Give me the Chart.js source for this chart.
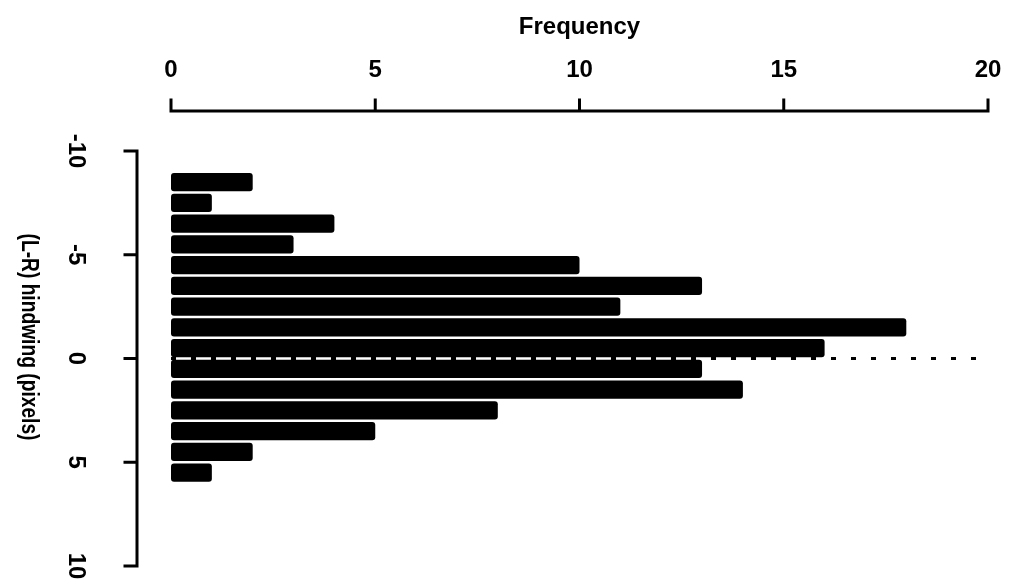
<!DOCTYPE html>
<html>
<head>
<meta charset="utf-8">
<script src="https://cdn.jsdelivr.net/npm/chart.js@4/dist/chart.umd.min.js"></script>
<style>
  html, body { margin: 0; padding: 0; background: #fff; }
  #wrap { position: absolute; left: 0; top: 0; width: 1010px; height: 582px; }
</style>
</head>
<body>
<div id="wrap"><canvas id="hist"></canvas></div>
<script>
// Histogram of left-right hindwing difference, one bar per 1-pixel bin
const binMids = [-8.5, -7.5, -6.5, -5.5, -4.5, -3.5, -2.5, -1.5, -0.5, 0.5, 1.5, 2.5, 3.5, 4.5, 5.5];
const counts  = [2, 1, 4, 3, 10, 13, 11, 18, 16, 13, 14, 8, 5, 2, 1];
const freqTicks = [0, 5, 10, 15, 20];
const diffTicks = [-10, -5, 0, 5, 10];
const xTitle = 'Frequency';
const yTitle = '(L-R) hindwing (pixels)';

const FONT = '"Liberation Sans", Arial, Helvetica, sans-serif';

// R-style detached axes drawn from the chart's own scales
const detachedAxes = {
  id: 'detachedAxes',
  afterDraw(chart) {
    const { ctx, scales: { x, y } } = chart;
    ctx.save();
    ctx.strokeStyle = '#000';
    ctx.fillStyle = '#000';
    ctx.lineWidth = 3;
    ctx.lineCap = 'square';
    ctx.lineJoin = 'miter';

    // frequency axis across the top
    const axY = 111, tickTop = 100;
    ctx.beginPath();
    ctx.moveTo(x.getPixelForValue(freqTicks[0]), axY);
    ctx.lineTo(x.getPixelForValue(freqTicks[freqTicks.length - 1]), axY);
    freqTicks.forEach(v => {
      const px = x.getPixelForValue(v);
      ctx.moveTo(px, axY);
      ctx.lineTo(px, tickTop);
    });
    ctx.stroke();

    ctx.font = 'bold 24px ' + FONT;
    ctx.textAlign = 'center';
    ctx.textBaseline = 'alphabetic';
    freqTicks.forEach(v => ctx.fillText(String(v), x.getPixelForValue(v), 77));
    ctx.fillText(xTitle, (x.left + x.right) / 2, 34);

    // difference axis on the left
    const axX = 137, tickLeft = 125;
    ctx.beginPath();
    ctx.moveTo(axX, y.getPixelForValue(diffTicks[0]));
    ctx.lineTo(axX, y.getPixelForValue(diffTicks[diffTicks.length - 1]));
    diffTicks.forEach(v => {
      const py = y.getPixelForValue(v);
      ctx.moveTo(axX, py);
      ctx.lineTo(tickLeft, py);
    });
    ctx.stroke();

    ctx.textBaseline = 'middle';
    diffTicks.forEach(v => {
      ctx.save();
      ctx.translate(76, y.getPixelForValue(v));
      ctx.rotate(Math.PI / 2);
      ctx.fillText(String(v), 0, 0);
      ctx.restore();
    });

    ctx.save();
    ctx.font = 'bold 23px ' + FONT;
    ctx.translate(28, 337);
    ctx.rotate(Math.PI / 2);
    ctx.fillText(yTitle, 0, 0, 207);
    ctx.restore();

    ctx.restore();
  }
};

new Chart(document.getElementById('hist'), {
  data: {
    datasets: [
      {
        type: 'bar',
        data: binMids.map((m, i) => ({ x: counts[i], y: m })),
        backgroundColor: '#000',
        borderWidth: 0,
        borderRadius: 3,
        borderSkipped: false,
        barPercentage: 0.87,
        categoryPercentage: 1.0,
        order: 2
      },
      {
        type: 'line',
        data: [{ x: 0, y: 0 }, { x: 20, y: 0 }],
        borderColor: '#000',
        borderWidth: 3,
        borderDash: [5, 15],
        pointRadius: 0,
        fill: false,
        order: 1
      }
    ]
  },
  options: {
    indexAxis: 'y',
    responsive: true,
    maintainAspectRatio: false,
    animation: false,
    layout: { autoPadding: false, padding: { left: 171, right: 22, top: 151, bottom: 16 } },
    scales: {
      x: { type: 'linear', min: 0, max: 20, offset: false, display: false },
      y: { type: 'linear', min: -10, max: 10, reverse: true, offset: false, display: false }
    },
    plugins: { legend: { display: false }, tooltip: { enabled: false } }
  },
  plugins: [detachedAxes]
});
</script>
</body>
</html>
